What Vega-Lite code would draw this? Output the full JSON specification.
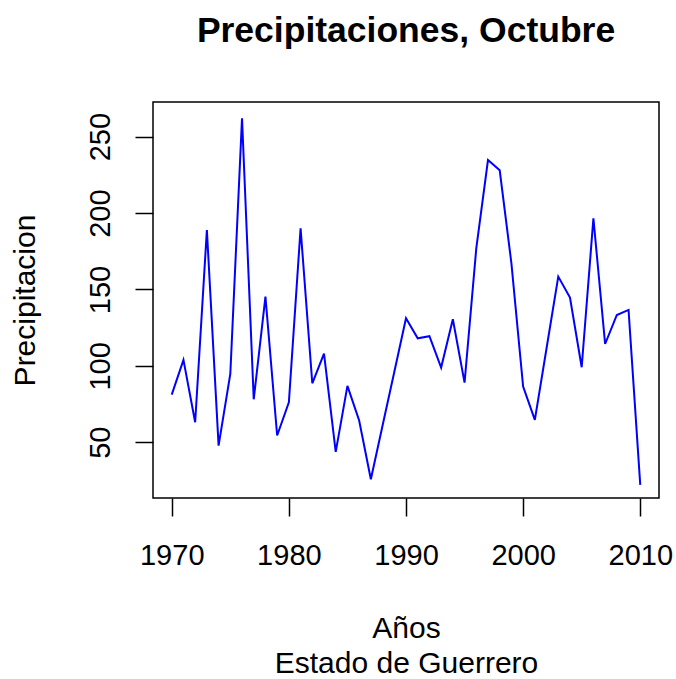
{
  "$schema": "https://vega.github.io/schema/vega-lite/v6.json",
  "width": 506,
  "height": 396,
  "autosize": {"type": "none"},
  "padding": {"left": 153, "top": 102, "right": 17, "bottom": 181},
  "background": "white",
  "config": {
    "font": "Liberation Sans",
    "view": {"stroke": "black", "strokeWidth": 1.5},
    "axis": {
      "grid": false,
      "domain": false,
      "tickColor": "black",
      "tickWidth": 1.5,
      "tickSize": 18,
      "labelFont": "Liberation Sans",
      "labelFontSize": 29,
      "labelColor": "black",
      "titleFont": "Liberation Sans",
      "titleFontSize": 30,
      "titleFontWeight": "normal",
      "titleColor": "black"
    }
  },
  "title": {
    "text": "Precipitaciones, Octubre",
    "font": "Liberation Sans",
    "fontSize": 35.5,
    "fontWeight": "bold",
    "color": "black",
    "anchor": "middle",
    "baseline": "alphabetic",
    "offset": 25
  },
  "data": {
    "values": [
      {"anio": 1970, "precip": 81.2},
      {"anio": 1971, "precip": 103.9},
      {"anio": 1972, "precip": 63.1},
      {"anio": 1973, "precip": 188.9},
      {"anio": 1974, "precip": 47.8},
      {"anio": 1975, "precip": 94.7},
      {"anio": 1976, "precip": 262.0},
      {"anio": 1977, "precip": 78.1},
      {"anio": 1978, "precip": 145.3},
      {"anio": 1979, "precip": 54.4},
      {"anio": 1980, "precip": 76.2},
      {"anio": 1981, "precip": 190.0},
      {"anio": 1982, "precip": 88.6},
      {"anio": 1983, "precip": 108.0},
      {"anio": 1984, "precip": 43.7},
      {"anio": 1985, "precip": 86.9},
      {"anio": 1986, "precip": 64.2},
      {"anio": 1987, "precip": 25.8},
      {"anio": 1988, "precip": 61.0},
      {"anio": 1989, "precip": 96.0},
      {"anio": 1990, "precip": 131.1},
      {"anio": 1991, "precip": 118.0},
      {"anio": 1992, "precip": 119.4},
      {"anio": 1993, "precip": 98.9},
      {"anio": 1994, "precip": 130.5},
      {"anio": 1995, "precip": 89.0},
      {"anio": 1996, "precip": 176.9},
      {"anio": 1997, "precip": 234.7},
      {"anio": 1998, "precip": 228.0},
      {"anio": 1999, "precip": 167.1},
      {"anio": 2000, "precip": 86.4},
      {"anio": 2001, "precip": 64.6},
      {"anio": 2002, "precip": 111.5},
      {"anio": 2003, "precip": 158.4},
      {"anio": 2004, "precip": 144.7},
      {"anio": 2005, "precip": 99.1},
      {"anio": 2006, "precip": 196.6},
      {"anio": 2007, "precip": 114.3},
      {"anio": 2008, "precip": 133.3},
      {"anio": 2009, "precip": 136.6},
      {"anio": 2010, "precip": 22.1}
    ]
  },
  "mark": {"type": "line", "color": "#0000FF", "strokeWidth": 2},
  "encoding": {
    "x": {
      "field": "anio",
      "type": "quantitative",
      "scale": {"domain": [1968.4, 2011.6], "nice": false, "zero": false},
      "axis": {
        "values": [1970, 1980, 1990, 2000, 2010],
        "format": "d",
        "labelPadding": 25,
        "title": ["Años", "Estado de Guerrero"],
        "titleLineHeight": 35,
        "titlePadding": 43
      }
    },
    "y": {
      "field": "precip",
      "type": "quantitative",
      "scale": {"domain": [13.5, 272.7], "nice": false, "zero": false},
      "axis": {
        "values": [50, 100, 150, 200, 250],
        "labelAngle": -90,
        "labelPadding": 20,
        "title": "Precipitacion",
        "titlePadding": 46
      }
    }
  }
}
